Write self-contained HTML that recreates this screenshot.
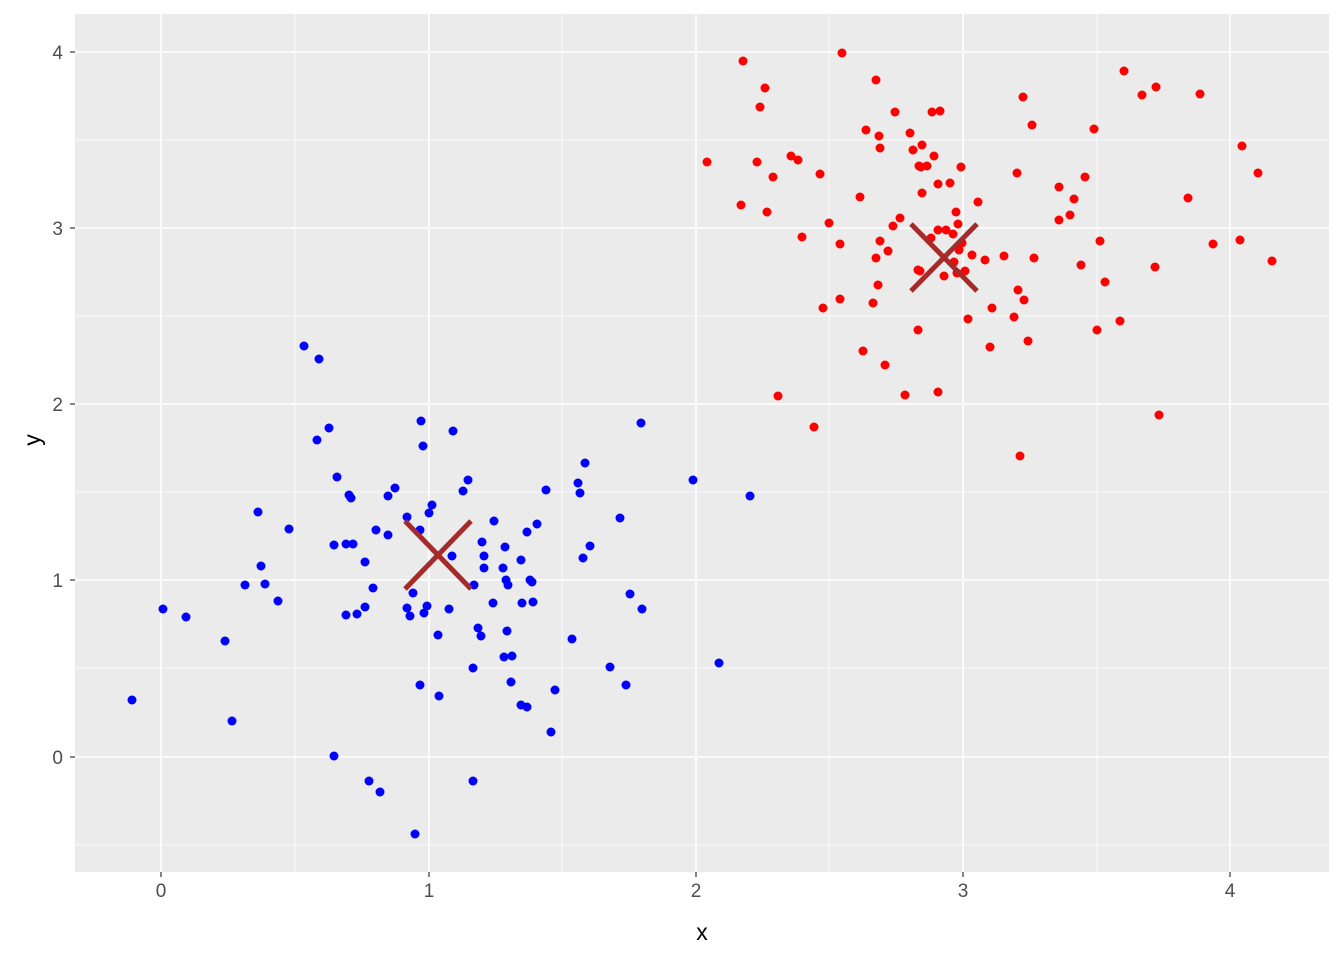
<!DOCTYPE html>
<html><head><meta charset="utf-8"><style>body{margin:0;background:#fff}svg{display:block}</style></head>
<body>
<svg width="1344" height="960" xmlns="http://www.w3.org/2000/svg" font-family="Liberation Sans, sans-serif">
<rect width="1344" height="960" fill="#fff"/>
<rect x="75" y="14" width="1254" height="858" fill="#EBEBEB"/>
<g stroke="#fff" stroke-width="0.8">
<line x1="295" y1="14" x2="295" y2="872"/><line x1="562" y1="14" x2="562" y2="872"/><line x1="829" y1="14" x2="829" y2="872"/><line x1="1097" y1="14" x2="1097" y2="872"/>
<line x1="75" y1="140" x2="1329" y2="140"/><line x1="75" y1="316" x2="1329" y2="316"/><line x1="75" y1="492" x2="1329" y2="492"/><line x1="75" y1="668" x2="1329" y2="668"/><line x1="75" y1="845" x2="1329" y2="845"/>
</g>
<g stroke="#fff" stroke-width="1.6">
<line x1="161" y1="14" x2="161" y2="872"/><line x1="429" y1="14" x2="429" y2="872"/><line x1="696" y1="14" x2="696" y2="872"/><line x1="963" y1="14" x2="963" y2="872"/><line x1="1230" y1="14" x2="1230" y2="872"/>
<line x1="75" y1="52" x2="1329" y2="52"/><line x1="75" y1="228" x2="1329" y2="228"/><line x1="75" y1="404" x2="1329" y2="404"/><line x1="75" y1="580" x2="1329" y2="580"/><line x1="75" y1="757" x2="1329" y2="757"/>
</g>
<g stroke="#333" stroke-width="1.2">
<line x1="161" y1="872" x2="161" y2="877"/><line x1="429" y1="872" x2="429" y2="877"/><line x1="696" y1="872" x2="696" y2="877"/><line x1="963" y1="872" x2="963" y2="877"/><line x1="1230" y1="872" x2="1230" y2="877"/>
<line x1="70" y1="52" x2="75" y2="52"/><line x1="70" y1="228" x2="75" y2="228"/><line x1="70" y1="404" x2="75" y2="404"/><line x1="70" y1="580" x2="75" y2="580"/><line x1="70" y1="757" x2="75" y2="757"/>
</g>
<g fill="#4D4D4D" font-size="19" text-anchor="middle">
<text x="161" y="897">0</text><text x="429" y="897">1</text><text x="696" y="897">2</text><text x="963" y="897">3</text><text x="1230" y="897">4</text>
</g>
<g fill="#4D4D4D" font-size="19" text-anchor="end">
<text x="63" y="59">4</text><text x="63" y="235">3</text><text x="63" y="411">2</text><text x="63" y="587">1</text><text x="63" y="764">0</text>
</g>
<text x="702" y="940" font-size="23" text-anchor="middle">x</text>
<text x="40" y="440" font-size="23" text-anchor="middle" transform="rotate(-90 40 440)">y</text>
<g fill="#0000FF">
<circle cx="132" cy="700" r="4.5"/><circle cx="163" cy="609" r="4.5"/><circle cx="186" cy="617" r="4.5"/><circle cx="225" cy="641" r="4.5"/><circle cx="232" cy="721" r="4.5"/><circle cx="245" cy="585" r="4.5"/><circle cx="258" cy="512" r="4.5"/><circle cx="261" cy="566" r="4.5"/><circle cx="265" cy="584" r="4.5"/><circle cx="278" cy="601" r="4.5"/><circle cx="289" cy="529" r="4.5"/><circle cx="304" cy="346" r="4.5"/><circle cx="319" cy="359" r="4.5"/><circle cx="329" cy="428" r="4.5"/><circle cx="317" cy="440" r="4.5"/><circle cx="337" cy="477" r="4.5"/><circle cx="334" cy="545" r="4.5"/><circle cx="346" cy="544" r="4.5"/><circle cx="353" cy="544" r="4.5"/><circle cx="351" cy="498" r="4.5"/><circle cx="349" cy="495" r="4.5"/><circle cx="365" cy="562" r="4.5"/><circle cx="357" cy="614" r="4.5"/><circle cx="346" cy="615" r="4.5"/><circle cx="376" cy="530" r="4.5"/><circle cx="373" cy="588" r="4.5"/><circle cx="365" cy="607" r="4.5"/><circle cx="388" cy="496" r="4.5"/><circle cx="395" cy="488" r="4.5"/><circle cx="388" cy="535" r="4.5"/><circle cx="407" cy="517" r="4.5"/><circle cx="407" cy="608" r="4.5"/><circle cx="410" cy="616" r="4.5"/><circle cx="413" cy="593" r="4.5"/><circle cx="424" cy="613" r="4.5"/><circle cx="427" cy="606" r="4.5"/><circle cx="421" cy="421" r="4.5"/><circle cx="423" cy="446" r="4.5"/><circle cx="420" cy="530" r="4.5"/><circle cx="429" cy="513" r="4.5"/><circle cx="432" cy="505" r="4.5"/><circle cx="453" cy="431" r="4.5"/><circle cx="452" cy="556" r="4.5"/><circle cx="463" cy="491" r="4.5"/><circle cx="468" cy="480" r="4.5"/><circle cx="474" cy="585" r="4.5"/><circle cx="478" cy="628" r="4.5"/><circle cx="481" cy="636" r="4.5"/><circle cx="482" cy="542" r="4.5"/><circle cx="484" cy="556" r="4.5"/><circle cx="484" cy="568" r="4.5"/><circle cx="493" cy="603" r="4.5"/><circle cx="494" cy="521" r="4.5"/><circle cx="503" cy="568" r="4.5"/><circle cx="505" cy="547" r="4.5"/><circle cx="506" cy="580" r="4.5"/><circle cx="508" cy="585" r="4.5"/><circle cx="507" cy="631" r="4.5"/><circle cx="512" cy="656" r="4.5"/><circle cx="521" cy="560" r="4.5"/><circle cx="522" cy="603" r="4.5"/><circle cx="527" cy="532" r="4.5"/><circle cx="533" cy="602" r="4.5"/><circle cx="530" cy="580" r="4.5"/><circle cx="537" cy="524" r="4.5"/><circle cx="546" cy="490" r="4.5"/><circle cx="532" cy="582" r="4.5"/><circle cx="473" cy="668" r="4.5"/><circle cx="504" cy="657" r="4.5"/><circle cx="438" cy="635" r="4.5"/><circle cx="449" cy="609" r="4.5"/><circle cx="420" cy="685" r="4.5"/><circle cx="439" cy="696" r="4.5"/><circle cx="334" cy="756" r="4.5"/><circle cx="369" cy="781" r="4.5"/><circle cx="380" cy="792" r="4.5"/><circle cx="415" cy="834" r="4.5"/><circle cx="473" cy="781" r="4.5"/><circle cx="511" cy="682" r="4.5"/><circle cx="521" cy="705" r="4.5"/><circle cx="555" cy="690" r="4.5"/><circle cx="551" cy="732" r="4.5"/><circle cx="572" cy="639" r="4.5"/><circle cx="578" cy="483" r="4.5"/><circle cx="580" cy="493" r="4.5"/><circle cx="585" cy="463" r="4.5"/><circle cx="590" cy="546" r="4.5"/><circle cx="583" cy="558" r="4.5"/><circle cx="620" cy="518" r="4.5"/><circle cx="630" cy="594" r="4.5"/><circle cx="642" cy="609" r="4.5"/><circle cx="610" cy="667" r="4.5"/><circle cx="626" cy="685" r="4.5"/><circle cx="641" cy="423" r="4.5"/><circle cx="693" cy="480" r="4.5"/><circle cx="719" cy="663" r="4.5"/><circle cx="750" cy="496" r="4.5"/><circle cx="527" cy="707" r="4.5"/>
</g>
<g fill="#FF0000">
<circle cx="707" cy="162" r="4.5"/><circle cx="743" cy="61" r="4.5"/><circle cx="760" cy="107" r="4.5"/><circle cx="765" cy="88" r="4.5"/><circle cx="757" cy="162" r="4.5"/><circle cx="741" cy="205" r="4.5"/><circle cx="767" cy="212" r="4.5"/><circle cx="773" cy="177" r="4.5"/><circle cx="791" cy="156" r="4.5"/><circle cx="798" cy="160" r="4.5"/><circle cx="802" cy="237" r="4.5"/><circle cx="778" cy="396" r="4.5"/><circle cx="814" cy="427" r="4.5"/><circle cx="820" cy="174" r="4.5"/><circle cx="823" cy="308" r="4.5"/><circle cx="829" cy="223" r="4.5"/><circle cx="840" cy="244" r="4.5"/><circle cx="840" cy="299" r="4.5"/><circle cx="842" cy="53" r="4.5"/><circle cx="860" cy="197" r="4.5"/><circle cx="866" cy="130" r="4.5"/><circle cx="863" cy="351" r="4.5"/><circle cx="873" cy="303" r="4.5"/><circle cx="876" cy="80" r="4.5"/><circle cx="879" cy="136" r="4.5"/><circle cx="880" cy="148" r="4.5"/><circle cx="876" cy="258" r="4.5"/><circle cx="880" cy="241" r="4.5"/><circle cx="878" cy="285" r="4.5"/><circle cx="885" cy="365" r="4.5"/><circle cx="895" cy="112" r="4.5"/><circle cx="893" cy="226" r="4.5"/><circle cx="900" cy="218" r="4.5"/><circle cx="905" cy="395" r="4.5"/><circle cx="910" cy="133" r="4.5"/><circle cx="913" cy="150" r="4.5"/><circle cx="919" cy="166" r="4.5"/><circle cx="921" cy="167" r="4.5"/><circle cx="922" cy="145" r="4.5"/><circle cx="922" cy="193" r="4.5"/><circle cx="918" cy="330" r="4.5"/><circle cx="920" cy="271" r="4.5"/><circle cx="927" cy="166" r="4.5"/><circle cx="932" cy="112" r="4.5"/><circle cx="940" cy="111" r="4.5"/><circle cx="934" cy="156" r="4.5"/><circle cx="938" cy="184" r="4.5"/><circle cx="931" cy="238" r="4.5"/><circle cx="938" cy="230" r="4.5"/><circle cx="946" cy="230" r="4.5"/><circle cx="950" cy="183" r="4.5"/><circle cx="953" cy="234" r="4.5"/><circle cx="956" cy="212" r="4.5"/><circle cx="958" cy="224" r="4.5"/><circle cx="959" cy="250" r="4.5"/><circle cx="961" cy="167" r="4.5"/><circle cx="944" cy="276" r="4.5"/><circle cx="954" cy="262" r="4.5"/><circle cx="962" cy="243" r="4.5"/><circle cx="965" cy="271" r="4.5"/><circle cx="957" cy="273" r="4.5"/><circle cx="978" cy="202" r="4.5"/><circle cx="972" cy="255" r="4.5"/><circle cx="985" cy="260" r="4.5"/><circle cx="968" cy="319" r="4.5"/><circle cx="992" cy="308" r="4.5"/><circle cx="990" cy="347" r="4.5"/><circle cx="1004" cy="256" r="4.5"/><circle cx="1017" cy="173" r="4.5"/><circle cx="1023" cy="97" r="4.5"/><circle cx="1032" cy="125" r="4.5"/><circle cx="1018" cy="290" r="4.5"/><circle cx="1024" cy="300" r="4.5"/><circle cx="1014" cy="317" r="4.5"/><circle cx="1028" cy="341" r="4.5"/><circle cx="1034" cy="258" r="4.5"/><circle cx="1059" cy="187" r="4.5"/><circle cx="1059" cy="220" r="4.5"/><circle cx="1070" cy="215" r="4.5"/><circle cx="1085" cy="177" r="4.5"/><circle cx="1074" cy="199" r="4.5"/><circle cx="1081" cy="265" r="4.5"/><circle cx="1094" cy="129" r="4.5"/><circle cx="1100" cy="241" r="4.5"/><circle cx="1105" cy="282" r="4.5"/><circle cx="1097" cy="330" r="4.5"/><circle cx="1120" cy="321" r="4.5"/><circle cx="1124" cy="71" r="4.5"/><circle cx="1142" cy="95" r="4.5"/><circle cx="1156" cy="87" r="4.5"/><circle cx="1155" cy="267" r="4.5"/><circle cx="1159" cy="415" r="4.5"/><circle cx="1188" cy="198" r="4.5"/><circle cx="1200" cy="94" r="4.5"/><circle cx="1213" cy="244" r="4.5"/><circle cx="1242" cy="146" r="4.5"/><circle cx="1240" cy="240" r="4.5"/><circle cx="1258" cy="173" r="4.5"/><circle cx="1272" cy="261" r="4.5"/><circle cx="1020" cy="456" r="4.5"/><circle cx="938" cy="392" r="4.5"/><circle cx="918" cy="270" r="4.5"/><circle cx="888" cy="251" r="4.5"/>
</g>
<g stroke="#A52A2A" stroke-width="5">
<line x1="405" y1="521" x2="471" y2="589"/><line x1="405" y1="589" x2="471" y2="521"/>
<line x1="911" y1="224" x2="977" y2="291"/><line x1="911" y1="291" x2="977" y2="224"/>
</g>
</svg>
</body></html>
